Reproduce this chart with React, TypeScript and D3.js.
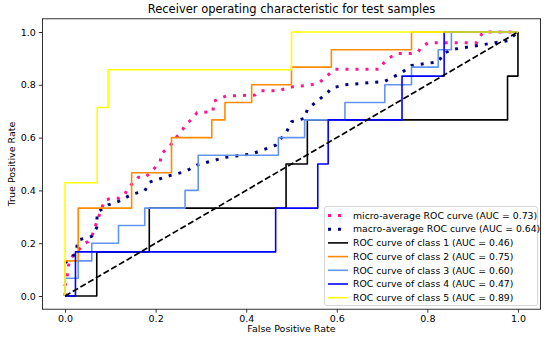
import { useEffect, useRef } from 'react'
import * as d3 from 'd3'

const xTicks = [0, 0.2, 0.4, 0.6, 0.8, 1.0]
const yTicks = [0, 0.2, 0.4, 0.6, 0.8, 1.0]

const microFpr = [0, 0, 0.005, 0.005, 0.011, 0.018, 0.033, 0.044, 0.051, 0.059, 0.07, 0.081, 0.088, 0.103, 0.118, 0.132, 0.136, 0.149, 0.162, 0.177, 0.191, 0.21, 0.213, 0.232, 0.243, 0.254, 0.269, 0.28, 0.291, 0.327, 0.327, 0.342, 0.357, 0.419, 0.43, 0.471, 0.489, 0.504, 0.541, 0.559, 0.574, 0.585, 0.596, 0.695, 0.703, 0.714, 0.732, 0.765, 0.78, 0.787, 0.802, 0.909, 0.916, 0.923, 1]
const microTpr = [0, 0.04, 0.07, 0.1, 0.136, 0.155, 0.18, 0.2, 0.206, 0.225, 0.28, 0.332, 0.364, 0.37, 0.37, 0.383, 0.4, 0.427, 0.45, 0.45, 0.471, 0.509, 0.54, 0.568, 0.597, 0.616, 0.654, 0.669, 0.694, 0.698, 0.736, 0.749, 0.758, 0.761, 0.777, 0.777, 0.787, 0.793, 0.799, 0.806, 0.825, 0.844, 0.859, 0.859, 0.881, 0.9, 0.919, 0.919, 0.925, 0.944, 0.959, 0.959, 0.982, 1, 1]

const macroFpr = [0, 0.023, 0.029, 0.059, 0.07, 0.071, 0.095, 0.118, 0.147, 0.176, 0.186, 0.235, 0.265, 0.294, 0.324, 0.353, 0.412, 0.465, 0.471, 0.488, 0.5, 0.529, 0.535, 0.558, 0.581, 0.588, 0.618, 0.706, 0.744, 0.765, 0.824, 0.837, 0.853, 0.977, 1]
const macroTpr = [0.126, 0.159, 0.212, 0.226, 0.259, 0.316, 0.345, 0.358, 0.385, 0.398, 0.431, 0.458, 0.471, 0.498, 0.511, 0.525, 0.538, 0.571, 0.585, 0.618, 0.66, 0.673, 0.707, 0.74, 0.773, 0.787, 0.8, 0.813, 0.847, 0.873, 0.887, 0.92, 0.933, 0.967, 1]

const class1Fpr = [0, 0.07, 0.07, 0.186, 0.186, 0.488, 0.488, 0.535, 0.535, 0.977, 0.977, 1, 1]
const class1Tpr = [0, 0, 0.167, 0.167, 0.333, 0.333, 0.5, 0.5, 0.667, 0.667, 0.833, 0.833, 1]

const class2Fpr = [0, 0, 0.029, 0.029, 0.147, 0.147, 0.235, 0.235, 0.324, 0.324, 0.353, 0.353, 0.412, 0.412, 0.5, 0.5, 0.588, 0.588, 0.765, 0.765, 1]
const class2Tpr = [0, 0.133, 0.133, 0.333, 0.333, 0.467, 0.467, 0.6, 0.6, 0.667, 0.667, 0.733, 0.733, 0.8, 0.8, 0.867, 0.867, 0.933, 0.933, 1, 1]

const class3Fpr = [0, 0, 0.029, 0.029, 0.059, 0.059, 0.118, 0.118, 0.176, 0.176, 0.265, 0.265, 0.294, 0.294, 0.471, 0.471, 0.529, 0.529, 0.618, 0.618, 0.706, 0.706, 0.765, 0.765, 0.824, 0.824, 0.853, 0.853, 1]
const class3Tpr = [0, 0.067, 0.067, 0.133, 0.133, 0.2, 0.2, 0.267, 0.267, 0.333, 0.333, 0.4, 0.4, 0.533, 0.533, 0.6, 0.6, 0.667, 0.667, 0.733, 0.733, 0.8, 0.8, 0.867, 0.867, 0.933, 0.933, 1, 1]

const class4Fpr = [0, 0.023, 0.023, 0.465, 0.465, 0.558, 0.558, 0.581, 0.581, 0.744, 0.744, 0.837, 0.837, 1]
const class4Tpr = [0, 0, 0.167, 0.167, 0.333, 0.333, 0.5, 0.5, 0.667, 0.667, 0.833, 0.833, 1, 1]

const class5Fpr = [0, 0, 0.071, 0.071, 0.095, 0.095, 0.5, 0.5, 1]
const class5Tpr = [0, 0.429, 0.429, 0.714, 0.714, 0.857, 0.857, 1, 1]

const legendLabels = [
  'micro-average ROC curve (AUC = 0.73)',
  'macro-average ROC curve (AUC = 0.64)',
  'ROC curve of class 1 (AUC = 0.46)',
  'ROC curve of class 2 (AUC = 0.75)',
  'ROC curve of class 3 (AUC = 0.60)',
  'ROC curve of class 4 (AUC = 0.47)',
  'ROC curve of class 5 (AUC = 0.89)'
]

const FONT = 'DejaVu Sans, sans-serif'

export default function App() {
  const svgRef = useRef<SVGSVGElement>(null)

  useEffect(() => {
    if (!svgRef.current) return
    const svg = d3.select(svgRef.current)
    svg.selectAll('*').remove()

    const left = 42.4
    const right = 540.6
    const top = 18.8
    const bottom = 309.2

    const x = d3.scaleLinear().domain([-0.05, 1.05]).range([left, right])
    const y = d3.scaleLinear().domain([-0.05, 1.05]).range([bottom, top])

    svg.append('rect')
      .attr('width', 550).attr('height', 340).attr('fill', '#fff')

    const toPts = (xs: number[], ys: number[]) => xs.map((v, i) => [v, ys[i]] as [number, number])
    const line = d3.line<[number, number]>().x(d => x(d[0])).y(d => y(d[1]))

    const plot = svg.append('g')

    const series = [
      { pts: toPts(microFpr, microTpr), color: 'deeppink', width: 3, dash: '3 7' },
      { pts: toPts(macroFpr, macroTpr), color: 'navy', width: 3, dash: '3 7' },
      { pts: toPts(class1Fpr, class1Tpr), color: 'black', width: 1.6, dash: null },
      { pts: toPts(class2Fpr, class2Tpr), color: 'darkorange', width: 1.6, dash: null },
      { pts: toPts(class3Fpr, class3Tpr), color: 'cornflowerblue', width: 1.6, dash: null },
      { pts: toPts(class4Fpr, class4Tpr), color: 'blue', width: 1.6, dash: null },
      { pts: toPts(class5Fpr, class5Tpr), color: 'yellow', width: 1.6, dash: null }
    ]

    series.forEach(s => {
      plot.append('path')
        .datum(s.pts)
        .attr('fill', 'none')
        .attr('stroke', s.color)
        .attr('stroke-width', s.width)
        .attr('stroke-dasharray', s.dash)
        .attr('stroke-linejoin', 'round')
        .attr('d', line)
    })

    // chance line
    plot.append('path')
      .datum([[0, 0], [1, 1]] as [number, number][])
      .attr('fill', 'none')
      .attr('stroke', 'black')
      .attr('stroke-width', 1.7)
      .attr('stroke-dasharray', '6.2 2.7')
      .attr('d', line)

    // axes
    const xAxis = svg.append('g')
      .attr('transform', `translate(0,${bottom})`)
      .call(d3.axisBottom(x).tickValues(xTicks).tickFormat(d3.format('.1f')).tickSize(3.5).tickPadding(3))
    const yAxis = svg.append('g')
      .attr('transform', `translate(${left},0)`)
      .call(d3.axisLeft(y).tickValues(yTicks).tickFormat(d3.format('.1f')).tickSize(3.5).tickPadding(3))

    ;[xAxis, yAxis].forEach(a => {
      a.select('.domain').remove()
      a.selectAll('.tick line').attr('stroke', '#000').attr('stroke-width', 0.8)
      a.selectAll('.tick text').attr('fill', '#000').style('font-family', FONT).style('font-size', '9.5px')
    })

    svg.append('rect')
      .attr('x', left).attr('y', top)
      .attr('width', right - left).attr('height', bottom - top)
      .attr('fill', 'none').attr('stroke', '#000').attr('stroke-width', 0.8)

    svg.append('text')
      .attr('x', (left + right) / 2).attr('y', 13)
      .attr('text-anchor', 'middle')
      .style('font-family', FONT).style('font-size', '11.5px')
      .text('Receiver operating characteristic for test samples')

    svg.append('text')
      .attr('x', (left + right) / 2).attr('y', 332)
      .attr('text-anchor', 'middle')
      .style('font-family', FONT).style('font-size', '9.5px')
      .text('False Positive Rate')

    svg.append('text')
      .attr('transform', `translate(15,${(top + bottom) / 2}) rotate(-90)`)
      .attr('text-anchor', 'middle')
      .style('font-family', FONT).style('font-size', '9.5px')
      .text('True Positive Rate')

    // legend
    const lg = svg.append('g')
    lg.append('rect')
      .attr('x', 324.5).attr('y', 206.5)
      .attr('width', 213).attr('height', 99)
      .attr('rx', 2.5)
      .attr('fill', 'rgba(255,255,255,0.8)')
      .attr('stroke', '#cccccc').attr('stroke-width', 0.8)

    legendLabels.forEach((label, i) => {
      const s = series[i]
      const ly = 215.5 + i * 13.7
      lg.append('line')
        .attr('x1', 328).attr('x2', 348)
        .attr('y1', ly).attr('y2', ly)
        .attr('stroke', s.color)
        .attr('stroke-width', s.width)
        .attr('stroke-dasharray', s.dash)
      lg.append('text')
        .attr('x', 353).attr('y', ly)
        .attr('dy', '0.35em')
        .style('font-family', FONT).style('font-size', '9.3px')
        .text(label)
    })
  }, [])

  return (
    <svg
      ref={svgRef}
      width={550}
      height={340}
      style={{ position: 'absolute', left: 0, top: 0 }}
    />
  )
}
